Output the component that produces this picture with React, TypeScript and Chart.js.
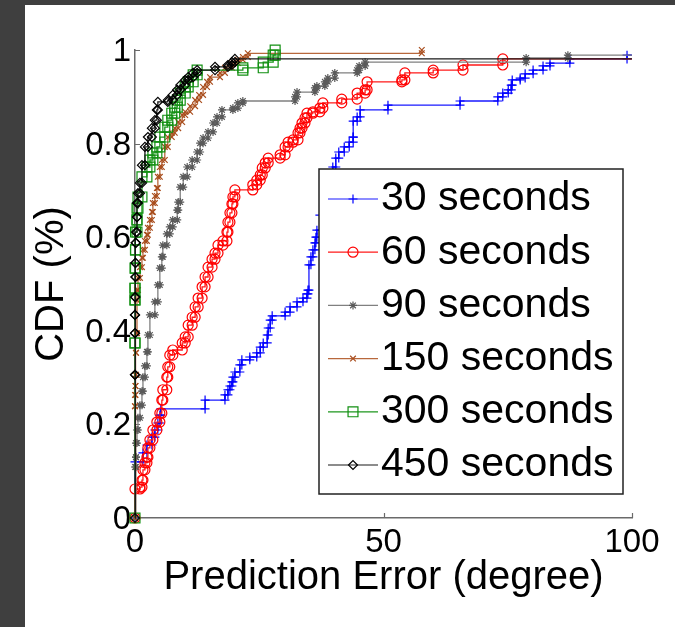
import React, { useEffect, useRef } from 'react';
import { Chart, registerables } from 'chart.js';
import { drawPoint } from 'chart.js/helpers';

Chart.register(...registerables);

// ---------- data ----------
const seriesLabels = ['30 seconds', '60 seconds', '90 seconds', '150 seconds', '300 seconds', '450 seconds'];
const xTicks = [0, 50, 100];
const yTicks = [0, 0.2, 0.4, 0.6, 0.8, 1];
const xTitle = 'Prediction Error (degree)';
const yTitle = 'CDF (%)';

// 30 seconds
const err30 = [0, 1.6, 2.4, 3.4, 4.0, 4.6, 5.0, 5.2, 14.1, 18.1, 18.7, 19.1, 19.5, 19.7, 20.1, 21.1, 21.5, 23.1, 24.5, 25.2, 25.8, 26.6, 26.8, 27.2, 27.6, 30.2, 31.2, 32.6, 33.8, 34.6, 34.8, 35.0, 35.4, 35.8, 36.2, 36.4, 36.6, 37.2, 38.2, 39.2, 39.8, 40.4, 41.0, 42.1, 43.1, 43.9, 43.9, 44.7, 45.3, 50.9, 65.4, 73.0, 74.0, 75.1, 75.7, 75.9, 77.5, 78.5, 80.1, 82.1, 83.5, 87.5, 99.0, 110];
const cdf30 = [0.120, 0.139, 0.156, 0.173, 0.188, 0.203, 0.220, 0.233, 0.252, 0.263, 0.274, 0.282, 0.291, 0.301, 0.312, 0.327, 0.338, 0.344, 0.353, 0.365, 0.374, 0.391, 0.406, 0.423, 0.432, 0.440, 0.451, 0.462, 0.470, 0.479, 0.487, 0.541, 0.558, 0.573, 0.588, 0.600, 0.615, 0.647, 0.690, 0.726, 0.750, 0.769, 0.782, 0.793, 0.803, 0.814, 0.848, 0.857, 0.872, 0.882, 0.891, 0.900, 0.908, 0.915, 0.925, 0.936, 0.940, 0.949, 0.957, 0.966, 0.972, 0.981, 0.989, 1.0];

// 60 seconds
const err60 = [0, 1.0, 1.4, 1.6, 2.0, 2.4, 2.6, 3.0, 3.6, 4.4, 5.0, 5.4, 5.6, 6.4, 6.6, 7.0, 7.6, 9.5, 10.1, 10.7, 11.5, 12.1, 12.7, 13.5, 14.1, 14.7, 15.5, 16.1, 16.7, 17.7, 18.5, 18.7, 19.1, 19.5, 19.7, 20.1, 23.7, 24.5, 25.2, 25.6, 26.2, 26.8, 29.2, 30.2, 30.8, 31.8, 32.8, 33.2, 33.6, 34.2, 34.6, 35.8, 37.2, 37.8, 41.6, 44.7, 46.3, 46.7, 53.7, 54.3, 60.0, 66.0, 74.0, 110];
const cdf60 = [0.062, 0.066, 0.081, 0.103, 0.118, 0.130, 0.150, 0.167, 0.188, 0.205, 0.224, 0.252, 0.274, 0.301, 0.323, 0.348, 0.359, 0.374, 0.387, 0.412, 0.429, 0.451, 0.470, 0.494, 0.515, 0.536, 0.553, 0.566, 0.583, 0.592, 0.611, 0.632, 0.652, 0.671, 0.686, 0.701, 0.712, 0.722, 0.733, 0.748, 0.759, 0.769, 0.776, 0.793, 0.803, 0.808, 0.823, 0.833, 0.844, 0.855, 0.865, 0.868, 0.876, 0.887, 0.895, 0.908, 0.915, 0.932, 0.936, 0.951, 0.957, 0.968, 0.981, 1.0];

// 90 seconds
const err90 = [0, 0.2, 0.2, 0.4, 0.6, 1.0, 1.4, 1.6, 2.0, 2.4, 2.6, 3.0, 4.0, 4.6, 5.0, 5.4, 5.6, 6.4, 7.0, 7.6, 8.5, 8.7, 9.1, 9.7, 10.5, 11.5, 12.5, 13.1, 13.7, 14.7, 15.7, 16.5, 17.5, 19.7, 20.7, 21.7, 32.2, 32.6, 36.2, 36.6, 38.2, 38.8, 40.2, 44.7, 45.1, 46.3, 78.7, 87.1, 110];
const cdf90 = [0.109, 0.130, 0.160, 0.188, 0.214, 0.241, 0.271, 0.301, 0.325, 0.355, 0.391, 0.434, 0.462, 0.498, 0.534, 0.558, 0.583, 0.607, 0.622, 0.637, 0.658, 0.675, 0.707, 0.729, 0.750, 0.765, 0.782, 0.801, 0.812, 0.825, 0.844, 0.857, 0.872, 0.876, 0.887, 0.891, 0.900, 0.910, 0.919, 0.923, 0.932, 0.940, 0.951, 0.957, 0.966, 0.974, 0.983, 0.989, 1.0];

// 150 seconds
const err150 = [0, 0, 0.1, 0.1, 0.2, 0.2, 0.4, 0.4, 0.6, 1.0, 1.4, 1.6, 2.0, 2.4, 2.6, 3.0, 3.4, 3.6, 4.0, 4.4, 4.6, 5.0, 5.4, 6.0, 6.6, 7.4, 8.0, 8.7, 9.5, 10.1, 11.1, 12.1, 12.9, 13.7, 14.5, 15.1, 17.1, 18.1, 19.5, 20.7, 21.7, 22.7, 57.7];
const cdf150 = [0.239, 0.263, 0.282, 0.306, 0.353, 0.395, 0.466, 0.487, 0.513, 0.536, 0.556, 0.573, 0.592, 0.605, 0.620, 0.637, 0.654, 0.673, 0.688, 0.705, 0.729, 0.750, 0.765, 0.793, 0.814, 0.823, 0.833, 0.846, 0.861, 0.868, 0.880, 0.893, 0.904, 0.921, 0.932, 0.942, 0.951, 0.962, 0.972, 0.979, 0.985, 0.993, 1.0];

// 300 seconds
const err300 = [0, 0, 0, 0, 0.1, 0.1, 0.4, 0.4, 0.6, 1.4, 2.4, 3.0, 3.6, 4.4, 5.0, 6.0, 6.6, 7.4, 8.0, 8.5, 9.1, 10.1, 10.7, 11.7, 12.5, 21.7, 25.8, 27.8, 28.2];
const cdf300 = [0.374, 0.466, 0.491, 0.534, 0.573, 0.611, 0.637, 0.662, 0.686, 0.729, 0.750, 0.765, 0.780, 0.793, 0.814, 0.835, 0.850, 0.865, 0.878, 0.893, 0.908, 0.921, 0.932, 0.947, 0.957, 0.962, 0.974, 0.989, 1.0];

// 450 seconds
const err450 = [0, 0, 0, 0, 0.1, 0.1, 0.1, 0.2, 0.4, 0.4, 0.6, 1.0, 1.4, 2.0, 2.6, 3.4, 4.0, 4.4, 4.6, 6.6, 7.6, 8.5, 9.1, 10.1, 10.7, 11.7, 12.5, 16.1, 18.7, 19.5, 20.1, 110];
const cdf450 = [0.306, 0.395, 0.434, 0.472, 0.515, 0.545, 0.588, 0.611, 0.643, 0.673, 0.694, 0.716, 0.754, 0.793, 0.814, 0.833, 0.850, 0.872, 0.889, 0.893, 0.904, 0.915, 0.925, 0.936, 0.942, 0.951, 0.957, 0.964, 0.968, 0.974, 0.981, 1.0];

const seriesErr = [err30, err60, err90, err150, err300, err450];
const seriesCdf = [cdf30, cdf60, cdf90, cdf150, cdf300, cdf450];

// ---------- styles ----------
const FONT = '"Liberation Sans", Arial, Helvetica, sans-serif';
const seriesStyle = [
  { line: '#1a1aff', marker: '#0000ff', pointStyle: 'cross', radius: 4.5 },
  { line: '#ff1a1a', marker: '#ff0000', pointStyle: 'circle', radius: 5 },
  { line: '#808080', marker: '#5a5a5a', pointStyle: 'star', radius: 4 },
  { line: '#b8683c', marker: '#a94e1e', pointStyle: 'crossRot', radius: 4 },
  { line: '#1c961c', marker: '#129012', pointStyle: 'rect', radius: 7 },
  { line: '#1a1a1a', marker: '#000000', pointStyle: 'rectRot', radius: 4.5 },
];

// stairs (MATLAB cdfplot look): a vertex at the foot and the top of every step
function stairs(errs: number[], cdf: number[]) {
  const pts: { x: number; y: number }[] = [];
  let prev = 0;
  errs.forEach((x, i) => {
    pts.push({ x, y: prev });
    pts.push({ x, y: cdf[i] });
    prev = cdf[i];
  });
  return pts;
}

const inwardTicks = {
  id: 'inwardTicks',
  beforeDatasetsDraw(chart: any) {
    const { ctx, chartArea, scales } = chart;
    ctx.save();
    ctx.strokeStyle = '#6a6a6a';
    ctx.lineWidth = 1.2;
    ctx.beginPath();
    yTicks.forEach((v) => {
      if (v === 0) return;
      const y = Math.round(scales.y.getPixelForValue(v)) + 0.5;
      ctx.moveTo(chartArea.left, y);
      ctx.lineTo(chartArea.left + 5, y);
    });
    xTicks.forEach((v) => {
      if (v === 0) return;
      const x = Math.round(scales.x.getPixelForValue(v)) + 0.5;
      ctx.moveTo(x, chartArea.bottom);
      ctx.lineTo(x, chartArea.bottom - 5);
    });
    ctx.stroke();
    ctx.restore();
  },
};

const boxLegend = {
  id: 'boxLegend',
  afterDatasetsDraw(chart: any) {
    const ctx = chart.ctx;
    const L = 294, T = 164, W = 304, H = 325;
    ctx.save();
    ctx.fillStyle = '#ffffff';
    ctx.fillRect(L, T, W, H);
    ctx.strokeStyle = '#222222';
    ctx.lineWidth = 1.5;
    ctx.strokeRect(L, T, W, H);
    chart.data.datasets.forEach((ds: any, i: number) => {
      const y = T + 30 + i * 53.2;
      ctx.strokeStyle = ds.borderColor;
      ctx.lineWidth = 1.2;
      ctx.beginPath();
      ctx.moveTo(L + 9, y);
      ctx.lineTo(L + 59, y);
      ctx.stroke();
      ctx.strokeStyle = ds.pointBorderColor;
      ctx.fillStyle = 'rgba(0,0,0,0)';
      ctx.lineWidth = 1.2;
      drawPoint(ctx, { pointStyle: ds.pointStyle, radius: ds.pointRadius, borderWidth: 1.2, rotation: 0 } as any, L + 34, y);
      ctx.fillStyle = '#000000';
      ctx.font = `41px ${FONT}`;
      ctx.textBaseline = 'middle';
      ctx.textAlign = 'left';
      ctx.fillText(ds.label, L + 62, y);
    });
    ctx.restore();
  },
};

export default function App() {
  const ref = useRef<HTMLCanvasElement | null>(null);

  useEffect(() => {
    if (!ref.current) return;
    const datasets = seriesLabels.map((label, i) => ({
      label,
      data: stairs(seriesErr[i], seriesCdf[i]),
      borderColor: seriesStyle[i].line,
      borderWidth: 1.3,
      pointStyle: seriesStyle[i].pointStyle,
      pointRadius: seriesStyle[i].radius,
      pointHoverRadius: seriesStyle[i].radius,
      pointBorderColor: seriesStyle[i].marker,
      pointBackgroundColor: 'rgba(0,0,0,0)',
      pointBorderWidth: 1.2,
      fill: false,
      tension: 0,
      order: seriesLabels.length - 1 - i,
      clip: { left: 12, top: 12, right: 0, bottom: 12 },
    }));

    const chart = new Chart(ref.current, {
      type: 'line',
      data: { datasets } as any,
      plugins: [inwardTicks, boxLegend],
      options: {
        responsive: false,
        animation: false,
        devicePixelRatio: 1,
        events: [],
        layout: { padding: { left: 0, right: 43, top: 45, bottom: 0 } },
        plugins: { legend: { display: false }, tooltip: { enabled: false } },
        scales: {
          x: {
            type: 'linear',
            min: 0,
            max: 100,
            afterBuildTicks: (s: any) => {
              s.ticks = xTicks.map((v) => ({ value: v }));
            },
            afterFit: (s: any) => {
              s.height = 109;
            },
            grid: { display: false, drawTicks: false },
            border: { display: true, color: '#6a6a6a', width: 1.5 },
            ticks: {
              color: '#000000',
              font: { family: FONT, size: 33 },
              padding: 5,
              maxRotation: 0,
              autoSkip: false,
              callback: (v: any) => String(v),
            },
            title: {
              display: true,
              text: xTitle,
              color: '#000000',
              font: { family: FONT, size: 40 },
              padding: { top: 0, bottom: 25 },
            },
          },
          y: {
            type: 'linear',
            min: 0,
            max: 1,
            afterBuildTicks: (s: any) => {
              s.ticks = yTicks.map((v) => ({ value: v }));
            },
            afterFit: (s: any) => {
              s.width = 110;
            },
            grid: { display: false, drawTicks: false },
            border: { display: true, color: '#6a6a6a', width: 1.5 },
            ticks: {
              color: '#000000',
              font: { family: FONT, size: 33 },
              padding: 4,
              labelOffset: 2,
              autoSkip: false,
              callback: (v: any) => String(v),
            },
            title: {
              display: true,
              text: yTitle,
              color: '#000000',
              font: { family: FONT, size: 40 },
              padding: { top: 3, bottom: 0 },
            },
          },
        },
      } as any,
    });
    return () => chart.destroy();
  }, []);

  return (
    <div
      style={{
        position: 'fixed',
        left: 0,
        top: 0,
        width: 675,
        height: 627,
        background: '#3f3f3f',
        overflow: 'hidden',
      }}
    >
      <canvas
        ref={ref}
        width={650}
        height={622}
        style={{ position: 'absolute', left: 25, top: 5, width: 650, height: 622, background: '#ffffff' }}
      />
    </div>
  );
}
